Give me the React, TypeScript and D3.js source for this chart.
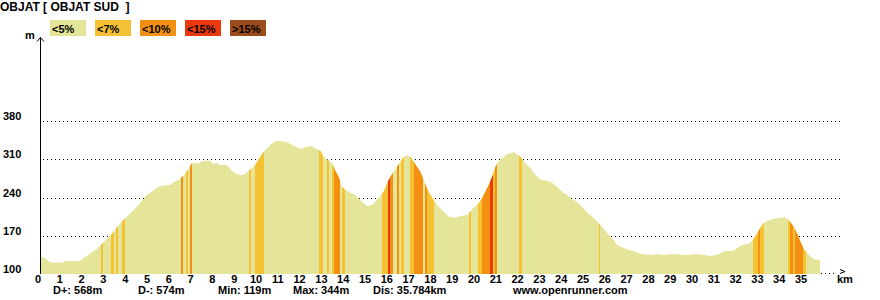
import React from "react";
import * as d3 from "d3";

const titleText = "OBJAT [ OBJAT SUD  ]";
const legendLabels = ["<5%", "<7%", "<10%", "<15%", ">15%"];
const legendColors = ["#e5e59a", "#f4c232", "#f39012", "#ec3a0e", "#9c4b1c"];
const yTicks = [100, 170, 240, 310, 380];
const xTicks = d3.range(0, 36);
const stats = ["D+: 568m", "D-: 574m", "Min: 119m", "Max: 344m", "Dis: 35.784km", "www.openrunner.com"];

const dist = [
  0.0, 0.23, 0.38, 0.54, 1.07, 1.1, 1.84, 1.91, 2.14, 2.37, 2.6, 2.83, 3.06, 3.29, 3.52, 3.75, 3.98, 4.21, 4.44, 4.67,
  4.9, 5.13, 5.36, 5.59, 5.97, 6.12, 6.35, 6.5, 6.66, 6.81, 6.96, 7.27, 7.5, 7.81, 7.96, 8.11, 8.19, 8.57, 8.65, 8.8,
  9.03, 9.18, 9.34, 9.49, 9.72, 9.87, 10.03, 10.25, 10.41, 10.64, 10.87, 11.1, 11.33, 11.56, 11.79, 11.94, 12.17, 12.4,
  12.55, 12.7, 12.86, 13.01, 13.16, 13.39, 13.54, 13.7, 13.85, 14.0, 14.23, 14.46, 14.62, 14.85, 15.0, 15.23, 15.38,
  15.61, 15.76, 15.92, 16.07, 16.22, 16.38, 16.53, 16.68, 16.84, 16.99, 17.14, 17.29, 17.45, 17.6, 17.75, 17.91, 18.06,
  18.21, 18.37, 18.6, 18.75, 19.05, 19.28, 19.59, 19.74, 19.9, 20.13, 20.28, 20.43, 20.58, 20.74, 20.89, 21.04, 21.27,
  21.43, 21.58, 21.73, 21.88, 22.04, 22.27, 22.5, 22.73, 22.96, 23.26, 23.49, 23.72, 23.95, 24.18, 24.41, 24.64, 24.87,
  25.1, 25.33, 25.56, 25.79, 26.02, 26.25, 26.48, 26.71, 26.94, 27.17, 27.4, 27.55, 28.08, 28.31, 28.62, 29.08, 29.69,
  30.15, 30.46, 30.72, 30.99, 31.15, 31.3, 31.45, 31.76, 31.91, 32.06, 32.22, 32.45, 32.6, 32.75, 32.9, 33.06, 33.21,
  33.36, 33.59, 33.82, 34.13, 34.28, 34.44, 34.59, 34.74, 34.89, 35.05, 35.2, 35.35, 35.51, 35.784,
];
const elev = [
  132, 129, 124, 121, 121, 123.8, 123.8, 127, 133, 139.7, 145, 155, 163.5, 172.6, 185, 195.7, 205, 214, 223, 233.6,
  244.6, 250.6, 258, 261.6, 263, 267.8, 272, 277, 284, 291.6, 302.6, 302.6, 306.8, 307.4, 301, 304, 299.5, 299.5, 296, 289,
  283, 281, 281, 286, 293.5, 299.5, 310, 322.7, 330, 339, 344, 343, 341.6, 336, 332, 328.8, 332, 334,
  332, 328, 325.7, 314.7, 310, 302.6, 290, 278, 259.8, 253.7, 248.8, 244.6, 238.5, 229.4, 224.4, 226.3, 232.3,
  242.7, 250.6, 266, 278, 287, 296.4, 305.5, 313.6, 317.8, 314.7, 305.5, 296.4, 287, 272, 256.8, 244.6, 235.4,
  226.3, 220.2, 211, 205, 203, 206, 208, 214, 222, 229.4, 238.5, 250.6, 263, 278, 296.4, 307.4, 313.6,
  319.6, 320.8, 322.7, 319.6, 314.7, 302.6, 293.5, 281, 273, 270.8, 267, 259.8, 250.6, 244.6, 236.6, 232.3, 222,
  212, 205, 195.7, 186.6, 174.5, 165.3, 153, 148.8, 145, 142.6, 139, 136.6, 134.8, 136.6, 134.8, 136.6, 134.8,
  136.6, 134.8, 133, 134.8, 136.6, 139.7, 142, 142, 145, 150, 153, 155, 157.3, 165.3, 174.5, 185.5, 194,
  197.6, 200, 202, 203.7, 201.3, 194, 185.5, 173, 159, 145, 137.8, 131.7, 127, 125.6,
];

// gradient bands: start km, end km, class index into legendColors
const bandStart = [
  2.8, 3.26, 3.49, 3.76, 6.47, 6.7, 6.89, 9.6, 9.87, 12.81, 13.18, 13.41, 13.5, 13.87, 15.7, 15.98, 16.07, 16.39, 16.58,
  16.99, 17.17, 17.68, 17.77, 19.7, 20.11, 20.29, 20.62, 20.8, 20.89, 21.99, 25.62, 32.69, 32.92, 33.01, 34.3, 34.39,
  34.53, 34.62, 34.99,
];
const bandEnd = [
  2.89, 3.4, 3.58, 3.9, 6.57, 6.8, 6.98, 9.69, 10.28, 12.99, 13.27, 13.5, 13.77, 14.0, 15.98, 16.07, 16.21, 16.48, 16.71,
  17.17, 17.59, 17.77, 18.09, 19.79, 20.29, 20.62, 20.8, 20.89, 20.98, 22.09, 25.71, 32.92, 33.01, 33.2, 34.39, 34.53,
  34.62, 34.99, 35.12,
];
const bandClass = [
  1, 1, 1, 1, 2, 1, 2, 1, 1, 1, 1, 1, 2, 1, 1, 3, 2, 2, 1,
  1, 2, 2, 1, 1, 1, 2, 3, 1, 2, 1, 1, 1, 2, 1, 1, 2,
  1, 2, 1,
];

const FONT = "'Liberation Sans', Arial, Helvetica, sans-serif";

export default function App() {
  const x = d3.scaleLinear().domain([0, 35]).range([40, 40 + 35 * 21.8]);
  const y = d3.scaleLinear().domain([100, 380]).range([274, 121]);
  const base = 274;
  const pts = dist.map((d, i) => [d, elev[i]] as [number, number]);
  const area = d3
    .area<[number, number]>()
    .x((p) => x(p[0]))
    .y0(base)
    .y1((p) => y(p[1]))(pts) as string;

  const textStyle = { fontFamily: FONT, fontWeight: 700, fontSize: 11 } as const;

  return (
    <svg
      width={880}
      height={300}
      style={{ position: "absolute", left: 0, top: 0, background: "#fff" }}
    >
      <defs>
        <clipPath id="profileClip">
          <path d={area} />
        </clipPath>
      </defs>
      <text x={0} y={10.5} style={{ ...textStyle, fontSize: 12, whiteSpace: "pre" }} fill="#000">
        {titleText}
      </text>
      {legendLabels.map((l, i) => (
        <g key={l}>
          <rect x={50 + 45 * i} y={20} width={36} height={16} fill={legendColors[i]} />
          <text x={52 + 45 * i} y={32.5} style={textStyle} fill="#000">
            {l}
          </text>
        </g>
      ))}
      {/* gridlines */}
      {yTicks
        .filter((v) => v !== 100)
        .map((v) => (
          <line
            key={v}
            x1={43}
            x2={840}
            y1={Math.round(y(v)) + 0.5}
            y2={Math.round(y(v)) + 0.5}
            stroke="#000"
            strokeDasharray="1,3"
          />
        ))}
      {/* profile */}
      <path d={area} fill={legendColors[0]} />
      <g clipPath="url(#profileClip)">
        {bandStart.map((s, i) => (
          <rect
            key={i}
            x={x(s)}
            y={100}
            width={x(bandEnd[i]) - x(s)}
            height={base - 100}
            fill={legendColors[bandClass[i]]}
            shapeRendering="crispEdges"
          />
        ))}
      </g>
      {/* y axis */}
      <line x1={40.5} x2={40.5} y1={37.5} y2={base} stroke="#000" />
      <path d="M37,41.5 L40.5,37.5 L44,41.5" fill="none" stroke="#000" />
      <text x={25} y={39} style={textStyle} fill="#000">
        m
      </text>
      {yTicks.map((v) => (
        <text key={v} x={3} y={y(v) - 1} style={textStyle} fill="#000">
          {v}
        </text>
      ))}
      {/* x axis */}
      <line x1={821} x2={836} y1={273.5} y2={273.5} stroke="#000" strokeDasharray="1,3" />
      <path d="M840,269.5 L845,271.5 L840,273.5" fill="none" stroke="#000" />
      <text x={837} y={283} style={textStyle} fill="#000">
        km
      </text>
      {xTicks.map((k) => (
        <text key={k} x={x(k) - 2} y={283} textAnchor="middle" style={textStyle} fill="#000">
          {k}
        </text>
      ))}
      {stats.map((s, i) => (
        <text key={s} x={[53, 138, 218, 293, 373, 513][i]} y={293.5} style={textStyle} fill="#000">
          {s}
        </text>
      ))}
    </svg>
  );
}
